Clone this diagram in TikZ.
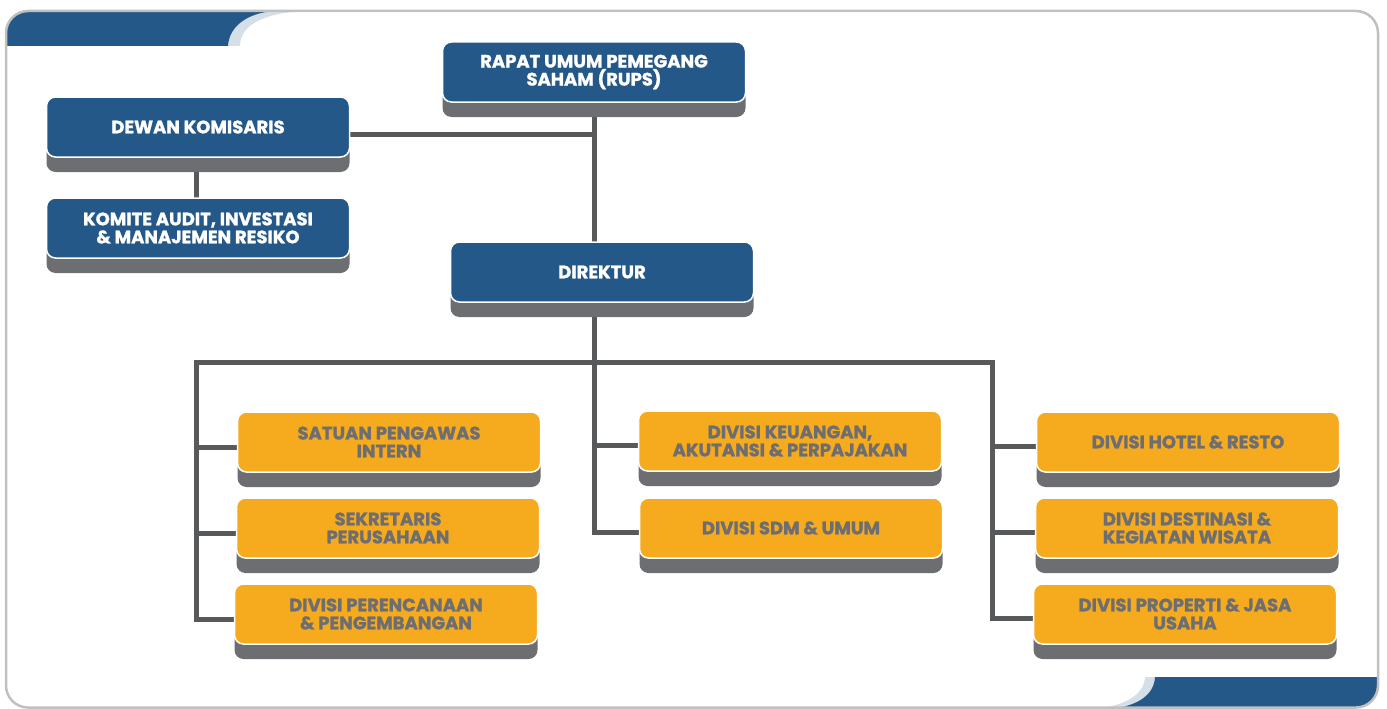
\documentclass[tikz,border=0pt]{standalone}
\usepackage{fontspec}
\setmainfont{Poppins}[BoldFeatures={FakeBold=1.3}]
\usepackage{tikz}
\usetikzlibrary{shadows}
\usetikzlibrary{backgrounds}
\definecolor{deepblue}{HTML}{245888}
\definecolor{orangebox}{HTML}{F6AA1E}
\definecolor{shadegray}{HTML}{6D6E71}
\definecolor{linkgray}{HTML}{58595B}
\definecolor{framegray}{HTML}{C0C0C0}
\definecolor{paleblue}{HTML}{D5DFE8}

\tikzset{
  unit/.style={rounded corners=9pt, minimum width=303pt, minimum height=60pt, inner sep=0pt,
    align=center, font=\bfseries\fontsize{18}{18}\selectfont, draw=white, line width=1.5pt,
    general shadow={fill=shadegray, shadow yshift=-15pt}},
  board/.style={unit, fill=deepblue, text=white},
  division/.style={unit, fill=orangebox, text=shadegray},
  link/.style={linkgray, line width=5pt, line cap=rect}
}

\begin{document}
\begin{tikzpicture}[x=1pt,y=-1pt]
  \useasboundingbox (0,0) rectangle (1387,709);
  % top level
  \node[board] (rups) at (594,72) {RAPAT UMUM PEMEGANG\\SAHAM (RUPS)};
  \node[board] (komisaris) at (198,127) {DEWAN KOMISARIS};
  \node[board] (komite) at (198,228) {KOMITE AUDIT, INVESTASI\\\& MANAJEMEN RESIKO};
  \node[board] (direktur) at (602,272) {DIREKTUR};
  % divisions
  \node[division] (spi) at (389,442) {SATUAN PENGAWAS\\INTERN};
  \node[division] (sekper) at (388,528) {SEKRETARIS\\PERUSAHAAN};
  \node[division] (renbang) at (386,614) {DIVISI PERENCANAAN\\\& PENGEMBANGAN};
  \node[division] (keuangan) at (790,441) {DIVISI KEUANGAN,\\AKUTANSI \& PERPAJAKAN};
  \node[division] (sdm) at (791,528) {DIVISI SDM \& UMUM};
  \node[division] (hotel) at (1188,442) {DIVISI HOTEL \& RESTO};
  \node[division] (destinasi) at (1187,528) {DIVISI DESTINASI \&\\KEGIATAN WISATA};
  \node[division] (properti) at (1185,614) {DIVISI PROPERTI \& JASA\\USAHA};

  \begin{scope}[on background layer]
    \begin{scope}
      \clip[rounded corners=22pt] (6,11) rectangle (1378,707.5);
      \fill[paleblue] (228,46) .. controls (229,28) and (245,13) .. (275,11) -- (305,11)
        .. controls (262,13) and (240,26) .. (240,46) -- cycle;
      \fill[deepblue] (0,0) -- (0,46) -- (228,46) .. controls (229,28) and (245,13) .. (275,11)
        -- (275,0) -- cycle;
      \fill[paleblue] (1155,677) .. controls (1154,694) and (1140,705) .. (1112,709) -- (1098,709)
        .. controls (1128,704) and (1144,694) .. (1145,677) -- cycle;
      \fill[deepblue] (1155,677) -- (1387,677) -- (1387,709) -- (1112,709)
        .. controls (1140,705) and (1154,694) .. (1155,677) -- cycle;
    \end{scope}
    \draw[framegray, line width=2.5pt, rounded corners=22pt] (6,11) rectangle (1378,707.5);

    % connectors
    \coordinate (hub) at (594,362);
    \coordinate (hubleft) at (196,362);
    \coordinate (hubright) at (992,362);
    \draw[link] ([xshift=-2pt]komisaris.south) -- ([xshift=-2pt]komite.north);
    \draw[link] ([yshift=-7pt]komisaris.east) -| (rups.south);
    \draw[link] (rups.south) -- (rups.south |- direktur.north);
    \draw[link] (rups.south |- direktur.south) -- (hub);
    \draw[link] (hubleft) -- (hubright);
    \foreach \unit in {spi,sekper,renbang}
      \draw[link] (hubleft) |- ([yshift=-5pt]\unit.west);
    \foreach \unit in {keuangan,sdm}
      \draw[link] (hub) |- ([yshift=-4pt]\unit.west);
    \foreach \unit in {hotel,destinasi,properti}
      \draw[link] (hubright) |- ([yshift=-4pt]\unit.west);
  \end{scope}
\end{tikzpicture}
\end{document}
